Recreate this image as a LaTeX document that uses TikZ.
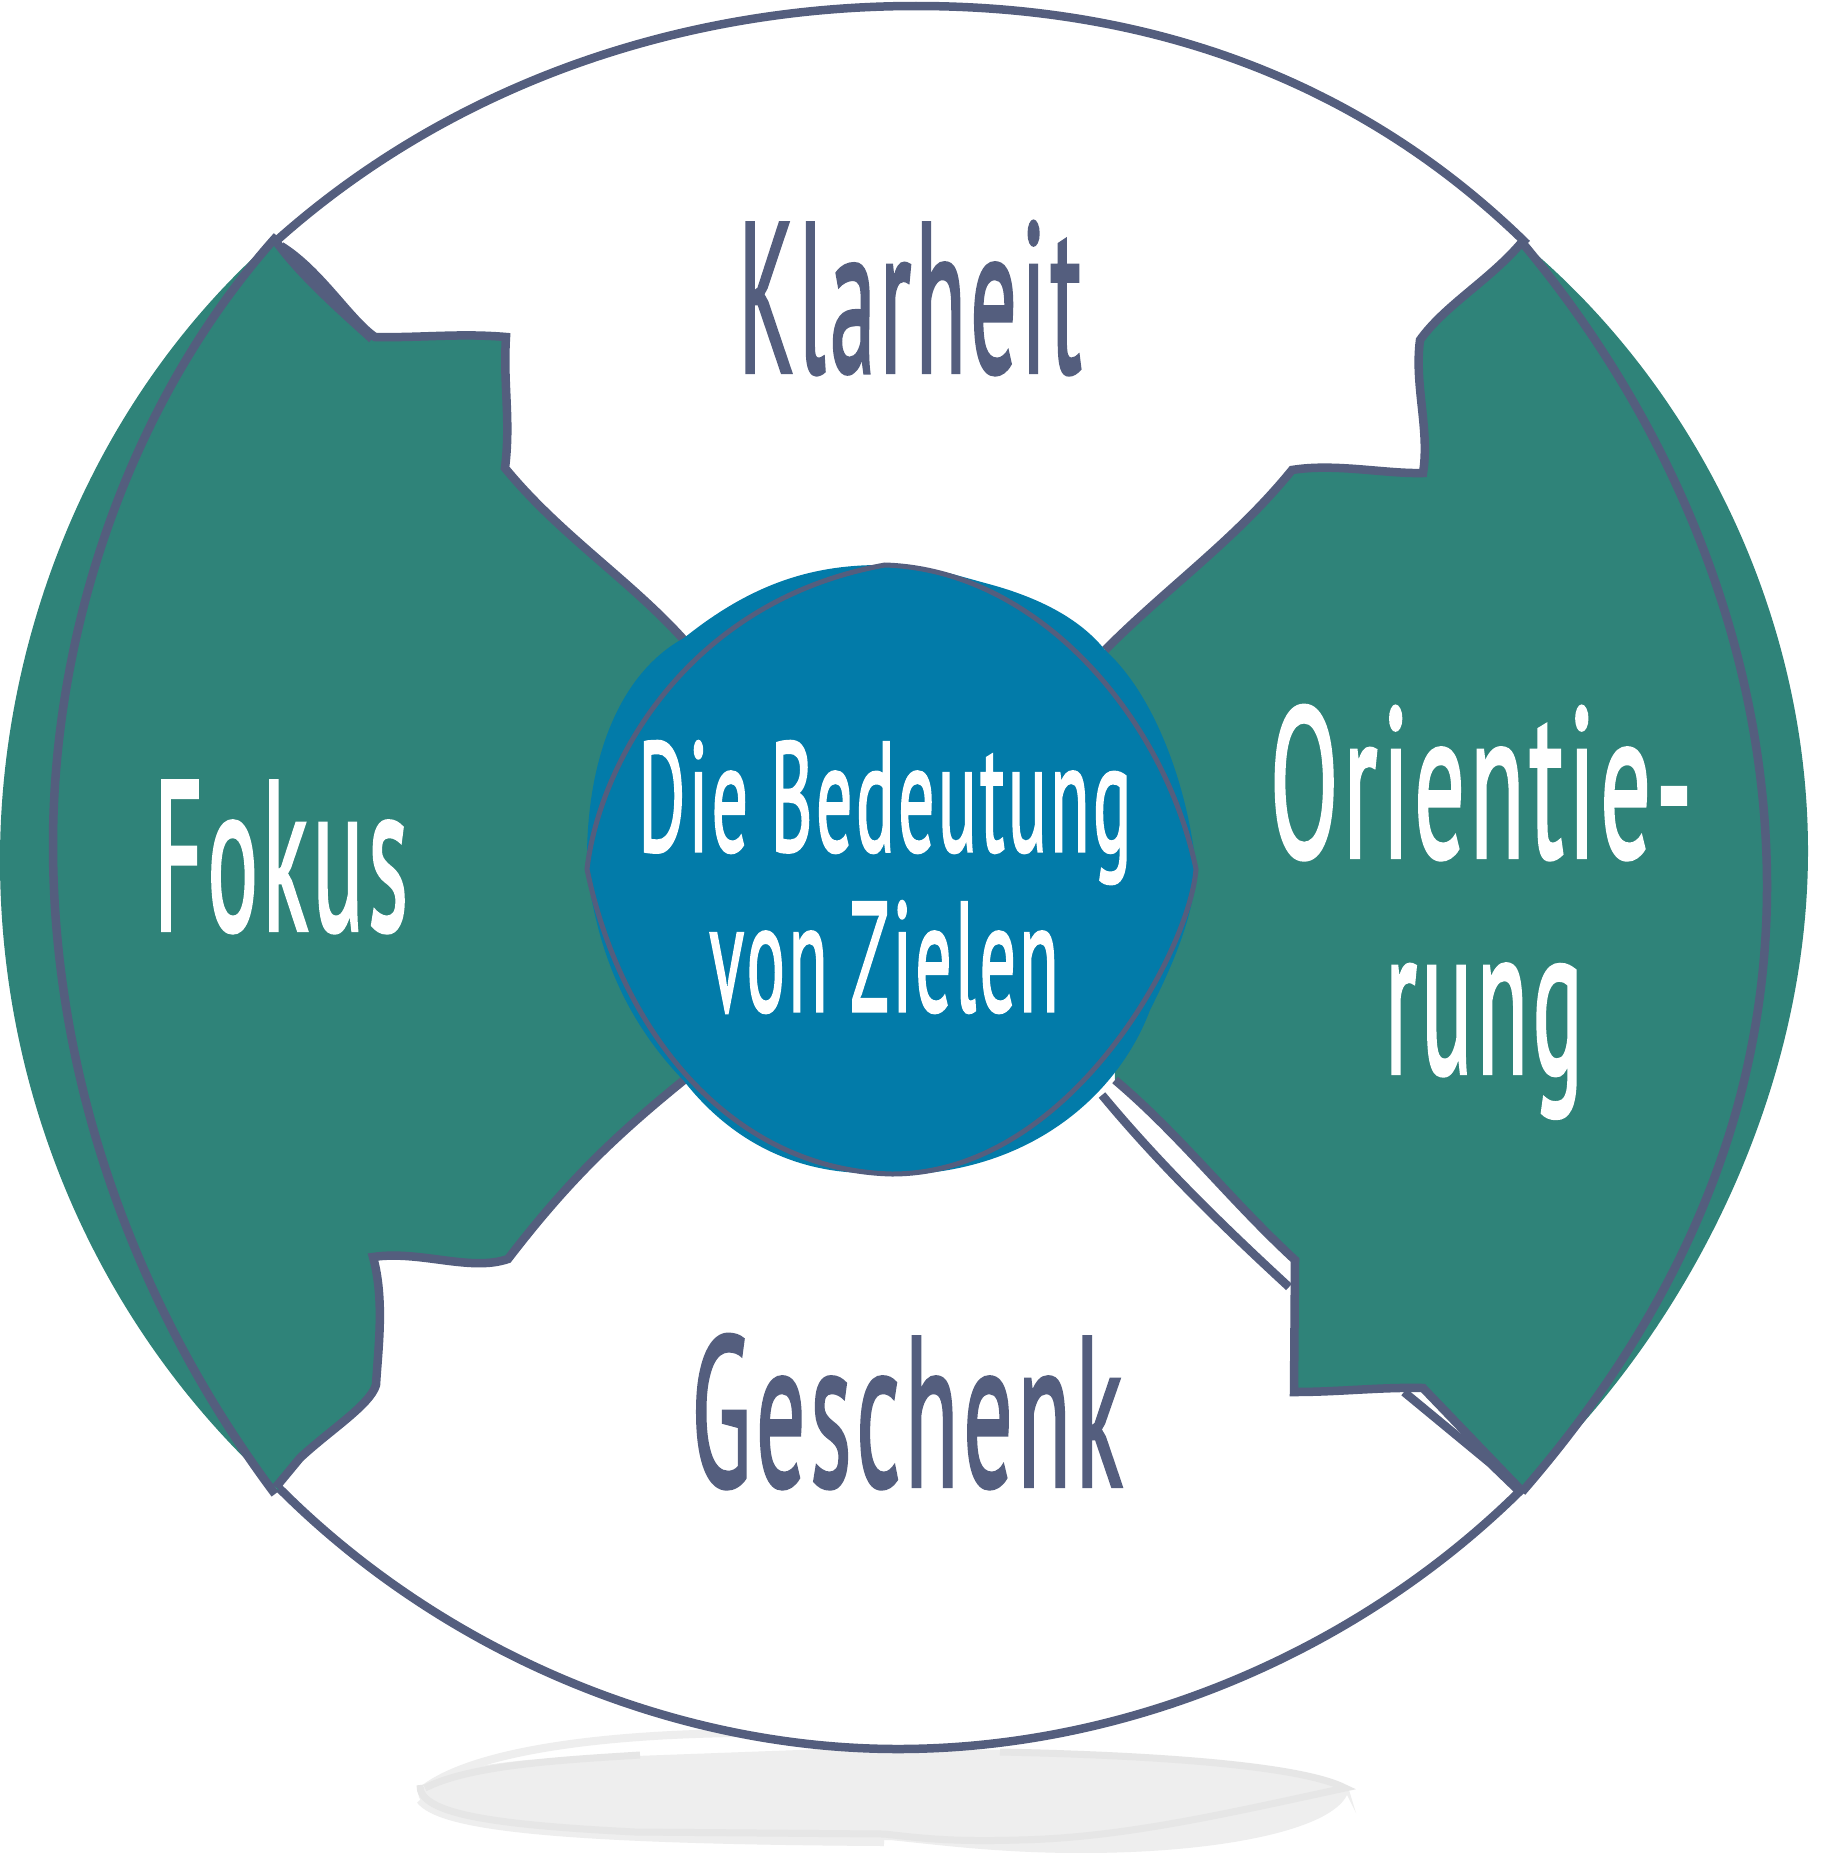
\documentclass[tikz,border=0pt]{standalone}
\usepackage{fontspec}
\setmainfont[LetterSpace=5,Ligatures=NoCommon]{PT Sans}
\definecolor{ln}{HTML}{545E7E}
\definecolor{gr}{HTML}{2F8379}
\definecolor{bl}{HTML}{027BA9}
\definecolor{sf}{HTML}{EEEEEE}
\definecolor{ss}{HTML}{E6E6E6}
\newlength{\fitlen}
\newcommand{\fitw}[3]{\setlength{\fitlen}{#1pt}\setlength{\fitlen}{0.4\fitlen}\resizebox{\fitlen}{\height}{\fontsize{#2}{#2}\selectfont\addfontfeature{FakeBold=2}#3}}
\tikzset{
  outl/.style={draw=ln,line width=3.4pt,line join=miter},
  thin outl/.style={draw=ln,line width=2pt},
  wlabel/.style={anchor=base,inner sep=0pt,text=white},
  dlabel/.style={anchor=base,inner sep=0pt,text=ln},
}
\begin{document}
\begin{tikzpicture}[x=0.4pt,y=-0.4pt]
\useasboundingbox (0,0) rectangle (1826,1853);
\fill[white] (0,0) rectangle (1826,1853);
% shadow
\fill[sf] (418,1792) .. controls (440,1770) and (480,1765) .. (527,1760) -- (826,1749) -- (1018,1750) .. controls (1150,1755) and (1300,1765) .. (1349,1790) -- (1356,1813) -- (1347,1795) .. controls (1330,1830) and (1220,1853) .. (1081,1853) .. controls (1000,1853) and (940,1845) .. (890,1840) -- (635,1840) .. controls (500,1830) and (418,1820) .. (418,1792) -- cycle;
\draw[sf,line width=3.2pt] (425,1788) .. controls (470,1755) and (580,1735) .. (737,1733);
\draw[sf,line width=3.2pt] (420,1800) .. controls (440,1825) and (540,1840) .. (884,1842);
\draw[ss,line width=2.8pt] (425,1788) .. controls (470,1765) and (560,1760) .. (640,1755);
\draw[ss,line width=2.8pt] (1000,1752) .. controls (1150,1755) and (1300,1765) .. (1345,1788) .. controls (1220,1815) and (1120,1838) .. (1018,1840) .. controls (950,1842) and (920,1838) .. (884,1834) -- (635,1832) .. controls (500,1825) and (418,1815) .. (420,1785);
% white ring arcs
\draw[outl] (275,242) .. controls (450,85) and (680,6) .. (916,6) .. controls (1150,6) and (1360,80) .. (1527,244);
\draw[outl] (278,1487) .. controls (440,1650) and (670,1749) .. (898,1749) .. controls (1130,1749) and (1360,1650) .. (1522,1489);
% second edge lower right
\draw[outl] (1102,1095) .. controls (1160,1165) and (1225,1228) .. (1289,1287);
% green fills
\fill[gr] (275,238) -- (374,338) -- (506,337) .. controls (503,385) and (511,420) .. (505,468) .. controls (560,535) and (630,580) .. (684,640) -- (684,1080) .. controls (610,1140) and (565,1185) .. (508,1259) .. controls (470,1272) and (420,1250) .. (373,1257) .. controls (385,1300) and (378,1350) .. (376,1385) .. controls (370,1405) and (330,1430) .. (300,1458) -- (278,1490) .. controls (100,1330) and (0,1100) .. (0,860) .. controls (0,640) and (90,400) .. (275,238) -- cycle;
\fill[gr] (1522,242) .. controls (1490,280) and (1445,305) .. (1420,340) .. controls (1414,385) and (1430,430) .. (1423,473) .. controls (1385,474) and (1335,463) .. (1292,470) .. controls (1235,540) and (1170,585) .. (1105,650) -- (1115,1080) .. controls (1180,1135) and (1230,1200) .. (1295,1260) -- (1294,1392) -- (1423,1388) -- (1521,1487) .. controls (1690,1330) and (1808,1090) .. (1808,851) .. controls (1808,620) and (1700,390) .. (1522,242) -- cycle;
% left outline
\draw[outl] (275,1494) .. controls (130,1300) and (53,1070) .. (53,845) .. controls (53,630) and (130,400) .. (277,236);
\draw[outl] (275,240) .. controls (300,275) and (340,310) .. (372,339);
\draw[outl] (281,246) .. controls (320,270) and (350,320) .. (375,337) .. controls (420,338) and (460,333) .. (506,337) .. controls (503,385) and (511,420) .. (505,468) .. controls (560,535) and (630,580) .. (684,640);
\draw[outl] (684,1080) .. controls (610,1140) and (565,1185) .. (508,1259) .. controls (470,1272) and (420,1250) .. (373,1257) .. controls (385,1300) and (378,1350) .. (376,1385) .. controls (370,1405) and (330,1430) .. (300,1458) -- (276,1487);
% right outline
\draw[outl] (1522,1492) .. controls (1680,1310) and (1767,1110) .. (1767,886) .. controls (1767,660) and (1680,430) .. (1520,240);
\draw[outl] (1522,242) .. controls (1490,280) and (1445,305) .. (1420,340) .. controls (1414,385) and (1430,430) .. (1423,473) .. controls (1385,474) and (1335,463) .. (1292,470) .. controls (1235,540) and (1170,585) .. (1105,650);
\draw[outl] (1115,1080) .. controls (1180,1135) and (1230,1200) .. (1295,1260) -- (1294,1392) .. controls (1340,1392) and (1380,1387) .. (1423,1388) -- (1521,1490);
\draw[outl] (1404,1392) -- (1490,1463) -- (1518,1490);
% centre blob
\fill[bl] (880,565) .. controls (920,564) and (945,572) .. (985,583) .. controls (1050,600) and (1085,625) .. (1105,650) .. controls (1160,700) and (1190,800) .. (1196,869) .. controls (1195,920) and (1165,980) .. (1150,1010) .. controls (1120,1090) and (1040,1165) .. (916,1174) .. controls (905,1175) and (895,1172) .. (892,1172) .. controls (800,1180) and (730,1140) .. (684,1081) .. controls (625,1020) and (597,950) .. (587,869) .. controls (585,750) and (625,670) .. (684,638) .. controls (750,585) and (810,565) .. (880,565) -- cycle;
\draw[thin outl] (885,565) .. controls (1040,570) and (1165,720) .. (1196,869) .. controls (1190,950) and (1070,1174) .. (892,1174) .. controls (730,1170) and (620,1030) .. (587,869) .. controls (600,760) and (690,600) .. (885,565) -- cycle;
% labels
\node[dlabel] (klarheit) at (910,372) {\fitw{343}{85pt}{Klarheit}};
\node[dlabel] (geschenk) at (907,1486) {\fitw{431}{85pt}{Geschenk}};
\node[wlabel] (fokus) at (281,930) {\fitw{254}{85pt}{Fokus}};
\node[wlabel] (orient) at (1481,857) {\fitw{422}{85pt}{Orientie-}};
\node[wlabel] (rung) at (1484,1073) {\fitw{198}{85pt}{rung}};
\node[wlabel] (die) at (885,851) {\fitw{493}{62pt}{Die Bedeutung}};
\node[wlabel] (von) at (884,1011) {\fitw{349}{62pt}{von Zielen}};
\end{tikzpicture}
\end{document}
